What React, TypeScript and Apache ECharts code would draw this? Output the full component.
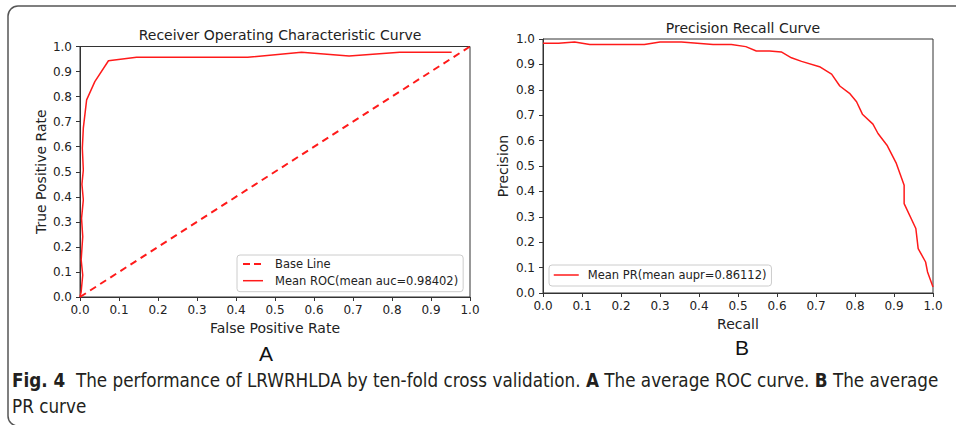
import React, { useEffect, useRef } from "react";
import * as echarts from "echarts";

// ROC curve (mean of ten folds)
const rocFpr = [0, 0.003, 0.007, 0.003, 0.007, 0.004, 0.0085, 0.005, 0.0085, 0.006, 0.0085, 0.017, 0.038, 0.073, 0.145, 0.43, 0.568, 0.69, 0.82, 0.953];
const rocTpr = [0, 0.021, 0.088, 0.148, 0.241, 0.314, 0.388, 0.45, 0.507, 0.594, 0.674, 0.787, 0.86, 0.943, 0.957, 0.957, 0.977, 0.962, 0.977, 0.977];
// Base line
const baseX = [0, 1];
const baseY = [0, 1];
// PR curve
const prRecall = [0, 0.04, 0.081, 0.12, 0.26, 0.3, 0.355, 0.436, 0.483, 0.52, 0.547, 0.581, 0.611, 0.637, 0.663, 0.709, 0.74, 0.761, 0.786, 0.804, 0.819, 0.846, 0.859, 0.882, 0.906, 0.926, 0.926, 0.956, 0.962, 0.981, 0.986, 1.0];
const prPrecision = [0.983, 0.983, 0.988, 0.978, 0.978, 0.988, 0.988, 0.978, 0.978, 0.97, 0.953, 0.953, 0.949, 0.926, 0.912, 0.891, 0.862, 0.815, 0.786, 0.753, 0.704, 0.665, 0.628, 0.582, 0.51, 0.424, 0.352, 0.254, 0.175, 0.122, 0.083, 0.024];

const rocTitle = "Receiver Operating Characteristic Curve";
const prTitle = "Precision Recall Curve";
const baseName = "Base Line";
const rocName = "Mean ROC(mean auc=0.98402)";
const prName = "Mean PR(mean aupr=0.86112)";

const FONT = "DejaVu Sans";
const CAP_FONT = "'Liberation Sans Narrow', 'DejaVu Sans Condensed', sans-serif";
const INK = "#222";
const AXIS = "#333";
const RED = "#ff1a1a";

const zip = (a: number[], b: number[]) => a.map((v, i) => [v, b[i]]);

function makeAxis(gridIndex: number, name: string, nameGap: number, margin: number) {
  return {
    type: "value",
    gridIndex,
    min: 0,
    max: 1,
    interval: 0.1,
    name,
    nameLocation: "middle",
    nameGap,
    nameTextStyle: { fontFamily: FONT, fontSize: 14, color: INK },
    axisLine: { show: true, onZero: false, lineStyle: { color: AXIS, width: 1 } },
    axisTick: { show: true, length: 4, lineStyle: { color: AXIS } },
    axisLabel: { formatter: (v: number) => v.toFixed(1), fontFamily: FONT, fontSize: 12, color: INK, margin },
    splitLine: { show: false },
  };
}

const legendBase = {
  orient: "vertical",
  itemHeight: 12,
  borderColor: "#ccc",
  borderWidth: 1,
  borderRadius: 3,
  backgroundColor: "#fff",
  itemStyle: { color: "transparent", borderWidth: 0, opacity: 0 },
};

export default function App() {
  const ref = useRef<HTMLDivElement>(null);
  useEffect(() => {
    if (!ref.current) return;
    const chart = echarts.init(ref.current, undefined, { renderer: "svg" });
    chart.setOption({
      animation: false,
      backgroundColor: "#fff",
      title: [
        { text: rocTitle, left: 275, top: 23, textAlign: "center", textStyle: { fontFamily: FONT, fontSize: 14, fontWeight: "normal", color: INK } },
        { text: prTitle, left: 738, top: 16, textAlign: "center", textStyle: { fontFamily: FONT, fontSize: 14, fontWeight: "normal", color: INK } },
      ],
      grid: [
        { left: 80, top: 46.5, width: 390, height: 250.5, show: true, borderColor: AXIS, borderWidth: 1, backgroundColor: "transparent" },
        { left: 543, top: 39, width: 390, height: 254, show: true, borderColor: AXIS, borderWidth: 1, backgroundColor: "transparent" },
      ],
      xAxis: [makeAxis(0, "False Positive Rate", 24, 7), makeAxis(1, "Recall", 23, 7)],
      yAxis: [makeAxis(0, "True Positive Rate", 32, 8), makeAxis(1, "Precision", 33, 8)],
      legend: [
        {
          ...legendBase,
          data: [
            { name: baseName, lineStyle: { type: [7, 4], width: 2, color: RED } },
            { name: rocName, lineStyle: { width: 1.5, color: RED } },
          ],
          left: 237,
          top: 255,
          itemWidth: 20,
          itemGap: 4.7,
          padding: [3, 5, 5, 5],
          textStyle: { fontFamily: FONT, fontSize: 11.5, color: INK, padding: [0, 0, 0, 7] },
        },
        {
          ...legendBase,
          data: [{ name: prName, lineStyle: { width: 1.5, color: RED } }],
          left: 549,
          top: 265,
          itemWidth: 25,
          padding: [4, 5, 5, 4],
          textStyle: { fontFamily: FONT, fontSize: 11.5, color: INK, padding: [0, 0, 0, 4] },
        },
      ],
      series: [
        {
          name: baseName,
          type: "line",
          xAxisIndex: 0,
          yAxisIndex: 0,
          data: zip(baseX, baseY),
          symbol: "none",
          lineStyle: { color: RED, width: 2, type: [7, 5] },
          itemStyle: { color: RED },
        },
        {
          name: rocName,
          type: "line",
          xAxisIndex: 0,
          yAxisIndex: 0,
          data: zip(rocFpr, rocTpr),
          symbol: "none",
          lineStyle: { color: RED, width: 1.5 },
          itemStyle: { color: RED },
        },
        {
          name: prName,
          type: "line",
          xAxisIndex: 1,
          yAxisIndex: 1,
          data: zip(prRecall, prPrecision),
          symbol: "none",
          lineStyle: { color: RED, width: 1.5 },
          itemStyle: { color: RED },
        },
      ],
      graphic: [
        {
          type: "rect",
          shape: { x: 8, y: 6, width: 980, height: 420, r: 10 },
          style: { fill: "none", stroke: "#555", lineWidth: 1.5 },
          silent: true,
        },
        {
          type: "text",
          x: 266,
          y: 353,
          style: { text: "A", fontFamily: "Liberation Sans", fontSize: 21, fill: "#111", align: "center", verticalAlign: "middle" },
        },
        {
          type: "text",
          x: 742,
          y: 347,
          style: { text: "B", fontFamily: "Liberation Sans", fontSize: 21, fill: "#111", align: "center", verticalAlign: "middle" },
        },
        {
          type: "text",
          x: 12,
          y: 380,
          style: {
            text: "{b|Fig. 4}  The performance of LRWRHLDA by ten-fold cross validation. {b|A} The average ROC curve. {b|B} The average",
            fontFamily: CAP_FONT,
            fontSize: 18.7,
            fill: "#231f20",
            align: "left",
            verticalAlign: "middle",
            rich: { b: { fontFamily: CAP_FONT, fontSize: 18.7, fontWeight: "bold", fill: "#231f20" } },
          },
        },
        {
          type: "text",
          x: 12,
          y: 406,
          style: { text: "PR curve", fontFamily: CAP_FONT, fontSize: 18.7, fill: "#231f20", align: "left", verticalAlign: "middle" },
        },
      ],
    });
    return () => chart.dispose();
  }, []);
  return <div ref={ref} style={{ position: "fixed", left: 0, top: 0, width: 956, height: 425 }} />;
}
